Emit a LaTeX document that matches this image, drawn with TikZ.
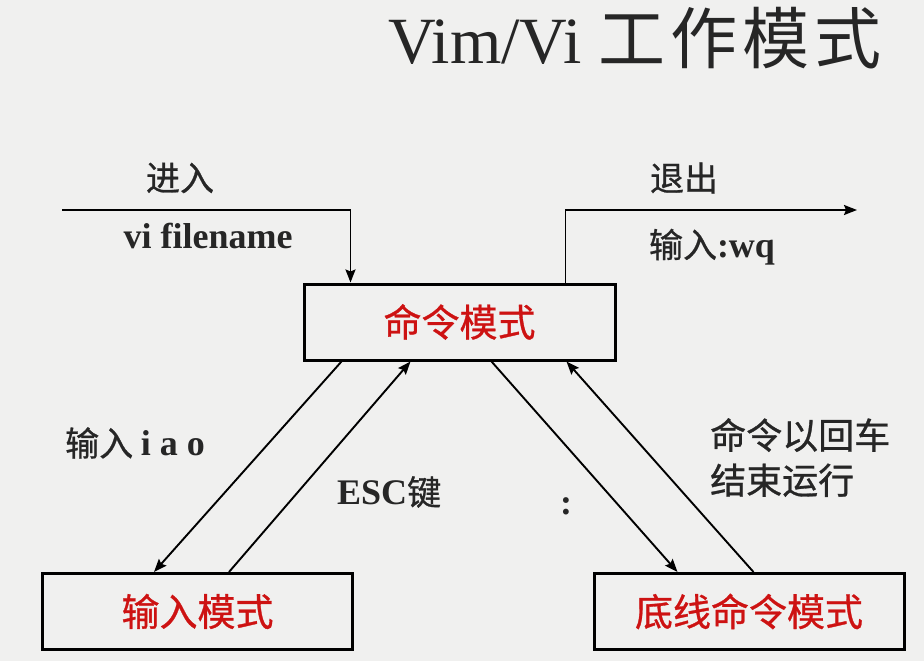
\documentclass[tikz,border=0pt]{standalone}
\usepackage{fontspec}
\setmainfont{Liberation Serif}
\newfontfamily\cjk{Noto Sans CJK SC}
\newfontfamily\cjkb[FakeBold=0.8]{Noto Sans CJK SC}
\usetikzlibrary{arrows.meta}
\definecolor{bg}{RGB}{240,240,239}
\definecolor{modered}{RGB}{205,18,18}
\definecolor{ink}{RGB}{38,38,38}
\tikzset{
  modebox/.style={draw=black, line width=3pt, fill=bg, inner sep=0pt,
    minimum width=310pt, minimum height=76pt,
    font=\cjkb\fontsize{38}{40}\selectfont, text=modered},
  conn/.style={draw=black, line width=1.9pt, -{Stealth[length=13pt,width=10pt,inset=2pt]}},
  lbl/.style={text=ink, inner sep=0pt},
  cjklbl/.style={lbl, font=\cjkb\fontsize{34}{36}\selectfont},
  latlbl/.style={lbl, font=\bfseries\fontsize{36}{38}\selectfont},
}
\begin{document}
\begin{tikzpicture}[x=1pt,y=-1pt]
\fill[bg] (0,0) rectangle (924,661);
\useasboundingbox (0,0) rectangle (924,661);

% title
\node[lbl, anchor=base west, font=\fontsize{66}{70}\selectfont] (title) at (388,64)
  {Vim/Vi {\cjk\fontsize{67}{70}\selectfont 工\hspace{5pt}作\hspace{5pt}模\hspace{5pt}式}};

% boxes
\node[modebox, minimum width=311pt] (cmd) at (459.5,322) {命令模式};
\node[modebox] (ins) at (197.5,611.5) {输入模式};
\node[modebox] (last) at (749,611.5) {底线命令模式};

% entry and exit
\coordinate (entrystart) at (62,210);
\coordinate (exitend) at (857,210);
\draw[conn] (entrystart) -| ([xshift=48pt]cmd.north west);
\draw[conn] ([xshift=263pt]cmd.north west) |- (exitend);

% diagonals
\draw[conn] ([xshift=39pt]cmd.south west) -- ([xshift=113pt]ins.north west);
\draw[conn] ([xshift=188pt]ins.north west) -- ([xshift=108pt]cmd.south west);
\draw[conn] ([xshift=189pt]cmd.south west) -- ([xshift=85pt]last.north west);
\draw[conn] ([xshift=161pt]last.north west) -- ([xshift=264pt]cmd.south west);

% labels
\node[cjklbl] (enter) at (180,178) {进入};
\node[latlbl] (vifile) at (208,236) {vi filename};
\node[cjklbl] (quit) at (684,178) {退出};
\node[lbl] (wq) at (712,247) {{\cjkb\fontsize{34}{36}\selectfont 输入}{\bfseries\fontsize{36}{38}\selectfont :wq}};
\node[lbl, anchor=west] (iao) at (65,443) {{\cjkb\fontsize{34}{36}\selectfont 输入 }{\bfseries\fontsize{36}{38}\selectfont i a o}};
\node[lbl, anchor=west] (esc) at (337,492) {{\bfseries\fontsize{36}{38}\selectfont ESC}{\cjkb\fontsize{34}{36}\selectfont 键}};
\node[latlbl] (colon) at (566,506) {:};
\node[cjklbl, anchor=north west, align=left, font=\cjkb\fontsize{36}{45}\selectfont] (runtxt) at (710,418) {命令以回车\\结束运行};
\end{tikzpicture}
\end{document}
